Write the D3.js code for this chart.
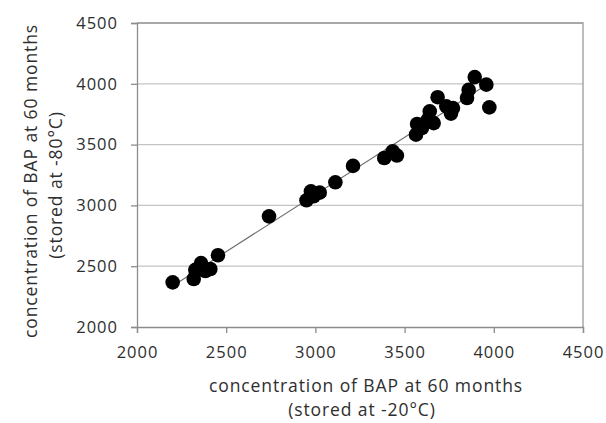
<!DOCTYPE html>
<html>
<head>
<meta charset="utf-8">
<script src="https://cdn.jsdelivr.net/npm/d3@7"></script>
<style>
  html, body { margin: 0; padding: 0; background: #fff; }
  svg { display: block; font-family: "Open Sans", "Noto Sans", sans-serif; }
</style>
</head>
<body>
<svg id="chart" width="606" height="423"></svg>
<script>
// BAP concentration at 60 months: samples stored at -20°C (x) vs -80°C (y)
const bapMinus20 = [2200, 2318, 2327, 2345, 2359, 2383, 2411, 2454, 2740, 2950, 2975, 2990, 3024, 3112, 3211, 3386, 3433, 3457, 3564, 3570, 3597, 3630, 3641, 3663, 3685, 3734, 3760, 3771, 3850, 3859, 3893, 3958, 3975];
const bapMinus80 = [2367, 2395, 2470, 2480, 2525, 2460, 2477, 2590, 2910, 3042, 3115, 3075, 3105, 3190, 3325, 3390, 3445, 3410, 3582, 3670, 3636, 3705, 3773, 3677, 3890, 3815, 3755, 3800, 3883, 3950, 4055, 3993, 3806];
const xTicks = [2000, 2500, 3000, 3500, 4000, 4500];
const yTicks = [2000, 2500, 3000, 3500, 4000, 4500];
const xTitle = ["concentration  of BAP at 60 months", "(stored at -20\u00B0C)"];
const yTitle = ["concentration of BAP at 60 months", "(stored at -80\u00B0C)"];

const svg = d3.select("#chart");
const plot = { left: 137, top: 23, right: 583, bottom: 327 };
const textColor = "#2e2e2e";

const x = d3.scaleLinear().domain([2000, 4500]).range([plot.left, plot.right]);
const y = d3.scaleLinear().domain([2000, 4500]).range([plot.bottom, plot.top]);

// horizontal gridlines
svg.append("g")
  .selectAll("line")
  .data(yTicks.slice(1))
  .join("line")
  .attr("x1", plot.left).attr("x2", plot.right)
  .attr("y1", d => y(d)).attr("y2", d => y(d))
  .attr("stroke", "#c4c4c4").attr("stroke-width", 1.3);

// plot frame (top and right)
svg.append("path")
  .attr("d", `M${plot.left},${plot.top}H${plot.right}V${plot.bottom}`)
  .attr("fill", "none").attr("stroke", "#9a9a9a").attr("stroke-width", 1.3);

// axes
const xAxis = svg.append("g")
  .attr("transform", `translate(0,${plot.bottom})`)
  .call(d3.axisBottom(x).tickValues(xTicks).tickSize(6).tickPadding(13).tickFormat(d3.format("d")));
const yAxis = svg.append("g")
  .attr("transform", `translate(${plot.left},0)`)
  .call(d3.axisLeft(y).tickValues(yTicks).tickSize(6).tickPadding(13).tickFormat(d3.format("d")));

[xAxis, yAxis].forEach(g => {
  g.select(".domain").attr("stroke", "#8c8c8c").attr("stroke-width", 1.3);
  g.selectAll(".tick line").attr("stroke", "#8c8c8c").attr("stroke-width", 1.3);
  g.selectAll(".tick text")
    .attr("fill", textColor)
    .style("font-size", "16.5px")
    .style("letter-spacing", "1px")
    .style("font-family", "'Open Sans', 'Noto Sans', sans-serif");
});

// linear trend line (least squares) across the data range
const pts = bapMinus20.map((v, i) => [v, bapMinus80[i]]);
const mx = d3.mean(bapMinus20), my = d3.mean(bapMinus80);
const slope = d3.sum(pts, p => (p[0] - mx) * (p[1] - my)) / d3.sum(pts, p => (p[0] - mx) ** 2);
const intercept = my - slope * mx;
const [x0, x1] = d3.extent(bapMinus20);
svg.append("line")
  .attr("x1", x(x0)).attr("y1", y(intercept + slope * x0))
  .attr("x2", x(x1)).attr("y2", y(intercept + slope * x1))
  .attr("stroke", "#6e6e6e").attr("stroke-width", 1.2);

// data points
svg.append("g")
  .selectAll("circle")
  .data(pts)
  .join("circle")
  .attr("cx", d => x(d[0]))
  .attr("cy", d => y(d[1]))
  .attr("r", 7.3)
  .attr("fill", "#000");

// x axis title
svg.append("g")
  .selectAll("text")
  .data(xTitle)
  .join("text")
  .attr("x", (d, i) => i === 0 ? 366 : 362)
  .attr("y", (d, i) => 392 + i * 24)
  .attr("text-anchor", "middle")
  .attr("fill", textColor)
  .style("font-size", "17.5px")
  .style("letter-spacing", "0.9px")
  .text(d => d);

// y axis title (rotated)
svg.append("g")
  .selectAll("text")
  .data(yTitle)
  .join("text")
  .attr("transform", (d, i) => `translate(${i === 0 ? 37 : 62},${i === 0 ? 181 : 185}) rotate(-90)`)
  .attr("text-anchor", "middle")
  .attr("fill", textColor)
  .style("font-size", "17.5px")
  .style("letter-spacing", "0.9px")
  .text(d => d);
</script>
</body>
</html>
